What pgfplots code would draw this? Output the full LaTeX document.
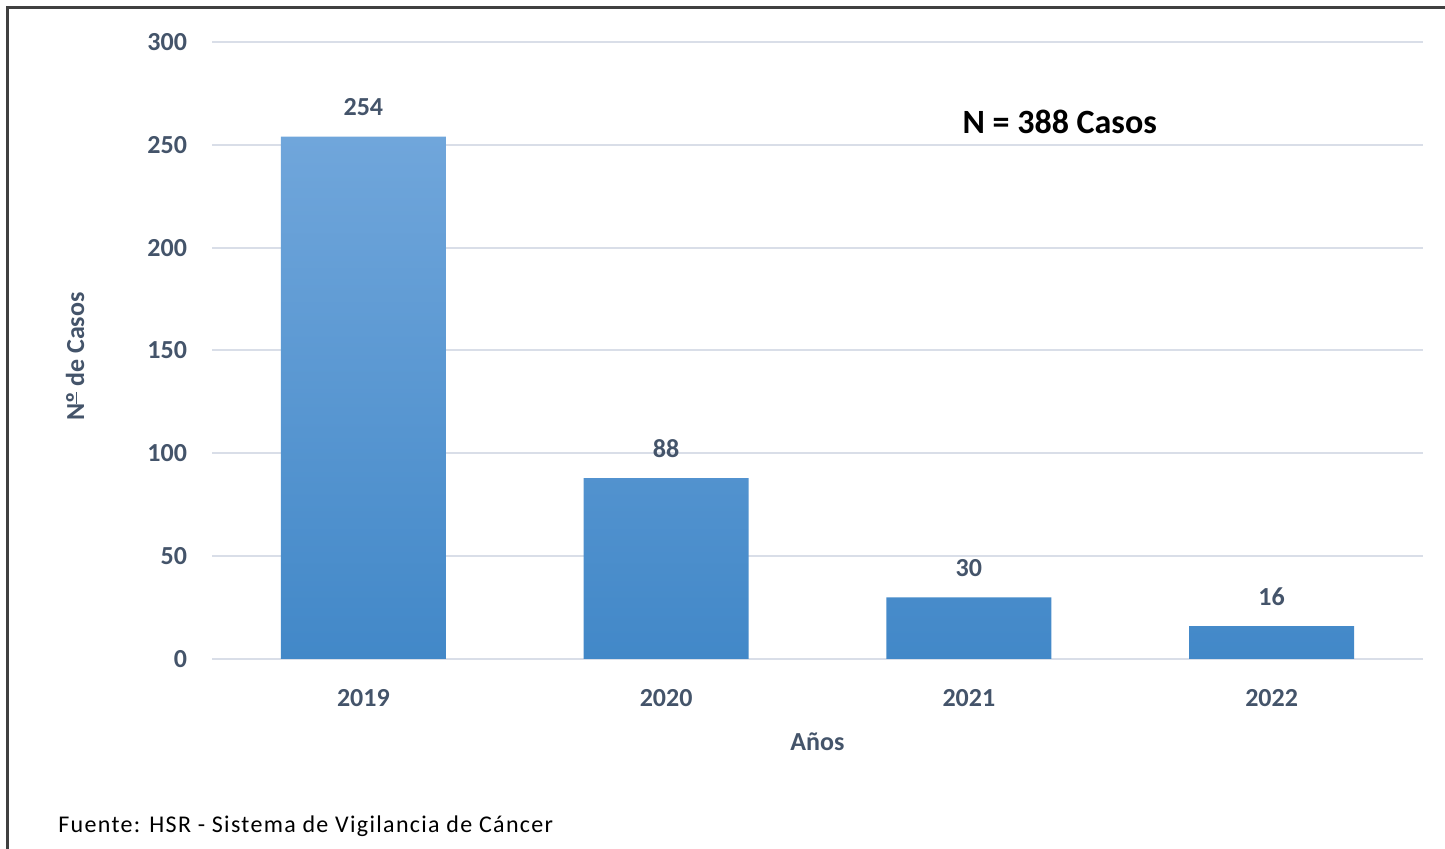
\documentclass[border=0pt]{standalone}
\usepackage{fontspec}
\setmainfont{Carlito}
\newfontfamily\fuentefont[LetterSpace=5.5]{Carlito}
\usepackage{pgfplots}
\pgfplotsset{compat=1.18}
\definecolor{tickc}{HTML}{44546A}
\definecolor{gridc}{HTML}{D9DEE8}
\definecolor{framec}{HTML}{404040}
\definecolor{bartop}{RGB}{112,166,219}
\definecolor{barmid}{RGB}{86,157,221}
\definecolor{barbot}{RGB}{66,136,200}
\newcommand\ordo{\leavevmode\setbox0\hbox{º}\rlap{\box0}\setbox0\hbox{º}\rule[0.26em]{\wd0}{0.07em}}
\begin{document}
\begin{tikzpicture}
\useasboundingbox (0,0) rectangle (722.5pt,424.5pt);
\draw[line width=1.5pt, color=framec] (3.5pt,-2pt) -- (3.5pt,420.5pt) -- (726pt,420.5pt);
\begin{axis}[
  at={(106pt,95pt)}, anchor=south west,
  scale only axis, width=605.5pt, height=308.5pt,
  xmin=-0.5, xmax=3.5, ymin=0, ymax=300,
  /pgf/number format/assume math mode=true,
  axis line style={draw=none},
  tick style={draw=none},
  ymajorgrids, grid style={gridc, line width=1pt},
  ytick={0,50,100,150,200,250,300},
  xtick={0,1,2,3},
  xticklabels={2019,2020,2021,2022},
  ticklabel style={font=\bfseries\fontsize{13}{15}\selectfont, text=tickc},
  yticklabel style={xshift=-9pt},
  xticklabel style={yshift=-11.5pt},
  xlabel={Años},
  ylabel={N\ordo{} de Casos},
  label style={font=\bfseries\fontsize{13}{15}\selectfont, text=tickc},
  xlabel style={at={(axis description cs:0.5,-0.1345)}, anchor=center},
  ylabel style={at={(axis description cs:-0.113,0.49)}, anchor=center},
  clip=false,
]
\addplot[ybar, bar width=82.5pt, draw=none, top color=bartop, middle color=barmid, bottom color=barbot,
  nodes near coords,
  every node near coord/.append style={font=\bfseries\fontsize{13}{15}\selectfont, text=tickc, yshift=6.8pt}]
  coordinates {(0,254) (1,88) (2,30) (3,16)};
\node[font=\bfseries\fontsize{17}{20}\selectfont, text=black] at (axis description cs:0.700,0.870) {N = 388 Casos};
\end{axis}
\node[anchor=west, font=\fuentefont\fontsize{12}{14}\selectfont, text=black, inner sep=0pt] at (29pt,11.5pt) {Fuente: HSR - Sistema de Vigilancia de Cáncer};
\end{tikzpicture}
\end{document}
